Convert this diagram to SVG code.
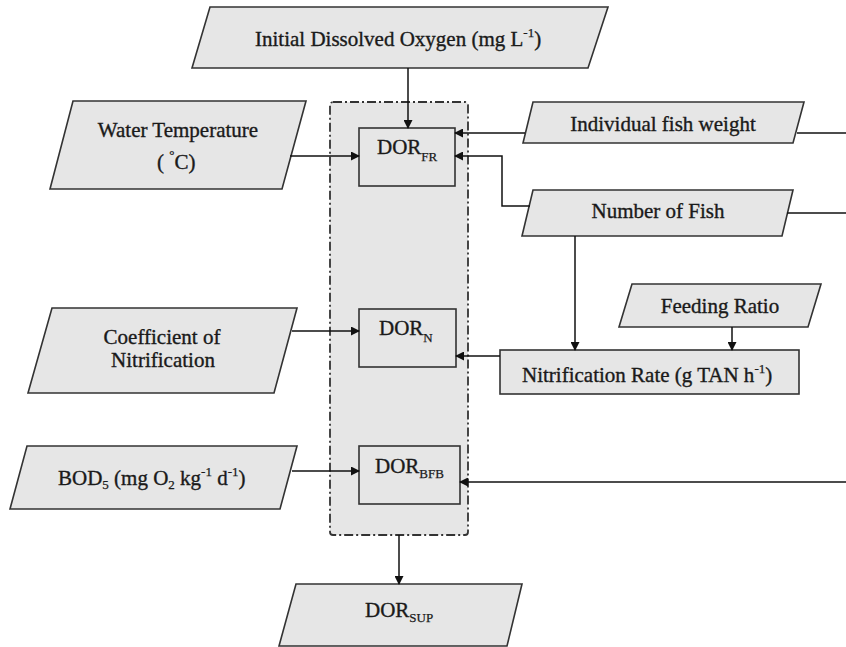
<svg xmlns="http://www.w3.org/2000/svg" width="846" height="647" viewBox="0 0 846 647">
<style>
.para{fill:#e6e6e6;stroke:#333;stroke-width:1.6}
.box{fill:#e6e6e6;stroke:#333;stroke-width:1.6}
.grp{fill:#e6e6e6;stroke:#333;stroke-width:1.8;stroke-dasharray:9 3 2 3}
.t{font-family:"Liberation Serif","Times New Roman",serif;font-size:21px;fill:#1a1a1a;stroke:#1a1a1a;stroke-width:0.35}
.s{font-size:13px;stroke-width:0.25}
.c{text-anchor:middle}
.ln{fill:none;stroke:#111;stroke-width:1.5}
</style>
<defs>
<marker id="ah" markerWidth="9" markerHeight="9" refX="8" refY="4.5" orient="auto" markerUnits="userSpaceOnUse">
<path d="M0,0 L9,4.5 L0,9 Z" fill="#111"/>
</marker>
</defs>
<rect width="846" height="647" fill="#fff"/>

<g id="container">
<rect class="grp" x="330" y="102" width="138" height="433" rx="3"/>
</g>

<g id="initial-do">
<polygon class="para" points="210,7 608,7 588,68 192,68"/>
<text class="t" x="255" y="46">Initial Dissolved Oxygen (mg L<tspan class="s" dy="-9">-1</tspan><tspan dy="9">)</tspan></text>
</g>

<g id="water-temp">
<polygon class="para" points="73,101 306,101 282,189 50,189"/>
<text class="t c" x="178" y="137">Water Temperature</text>
<text class="t" x="157" y="169">( <tspan class="s" dy="-10">°</tspan><tspan dy="10">C)</tspan></text>
</g>

<g id="fish-weight">
<polygon class="para" points="533,102 804,102 793,143 523,143"/>
<text class="t c" x="663" y="131">Individual fish weight</text>
</g>

<g id="num-fish">
<polygon class="para" points="533,190 793,190 782,236 522,236"/>
<text class="t c" x="658" y="218">Number of Fish</text>
</g>

<g id="dor-fr">
<rect class="box" x="359" y="128" width="96" height="58"/>
<text class="t" x="377" y="154">DOR<tspan class="s" dy="7">FR</tspan></text>
</g>

<g id="coef-nit">
<polygon class="para" points="52,308 297,308 274,393 28,393"/>
<text class="t c" x="162" y="344">Coefficient of</text>
<text class="t c" x="163" y="367">Nitrification</text>
</g>

<g id="dor-n">
<rect class="box" x="359" y="309" width="97" height="58"/>
<text class="t" x="379" y="335">DOR<tspan class="s" dy="7">N</tspan></text>
</g>

<g id="feeding-ratio">
<polygon class="para" points="632,284 821,284 808,327 619,327"/>
<text class="t c" x="720" y="313">Feeding Ratio</text>
</g>

<g id="nit-rate">
<rect class="box" x="500" y="350" width="299" height="44"/>
<text class="t" x="522" y="382">Nitrification Rate (g TAN h<tspan class="s" dy="-9">-1</tspan><tspan dy="9">)</tspan></text>
</g>

<g id="bod5">
<polygon class="para" points="27,446 297,446 280,509 10,509"/>
<text class="t" x="58" y="485">BOD<tspan class="s" dy="4">5</tspan><tspan dy="-4"> (mg O</tspan><tspan class="s" dy="4">2</tspan><tspan dy="-4"> kg</tspan><tspan class="s" dy="-9">-1</tspan><tspan dy="9"> d</tspan><tspan class="s" dy="-9">-1</tspan><tspan dy="9">)</tspan></text>
</g>

<g id="dor-bfb">
<rect class="box" x="359" y="446" width="101" height="58"/>
<text class="t" x="375" y="473">DOR<tspan class="s" dy="5">BFB</tspan></text>
</g>

<g id="dor-sup">
<polygon class="para" points="296,584 522,584 507,646 279,646"/>
<text class="t" x="365" y="617">DOR<tspan class="s" dy="5">SUP</tspan></text>
</g>

<g id="connectors">
<line class="ln" x1="408" y1="68" x2="408" y2="128" marker-end="url(#ah)"/>
<line class="ln" x1="290" y1="156" x2="359" y2="156" marker-end="url(#ah)"/>
<line class="ln" x1="525" y1="133" x2="455" y2="133" marker-end="url(#ah)"/>
<line class="ln" x1="797" y1="133" x2="846" y2="133"/>
<polyline class="ln" points="530,206 502,206 502,156 455,156" marker-end="url(#ah)"/>
<line class="ln" x1="787" y1="213" x2="846" y2="213"/>
<line class="ln" x1="575" y1="236" x2="575" y2="350" marker-end="url(#ah)"/>
<line class="ln" x1="732" y1="327" x2="732" y2="350" marker-end="url(#ah)"/>
<line class="ln" x1="500" y1="356" x2="456" y2="356" marker-end="url(#ah)"/>
<line class="ln" x1="292" y1="331" x2="359" y2="331" marker-end="url(#ah)"/>
<line class="ln" x1="292" y1="471" x2="359" y2="471" marker-end="url(#ah)"/>
<line class="ln" x1="846" y1="482" x2="460" y2="482" marker-end="url(#ah)"/>
<line class="ln" x1="399" y1="535" x2="399" y2="584" marker-end="url(#ah)"/>
</g>
</svg>
